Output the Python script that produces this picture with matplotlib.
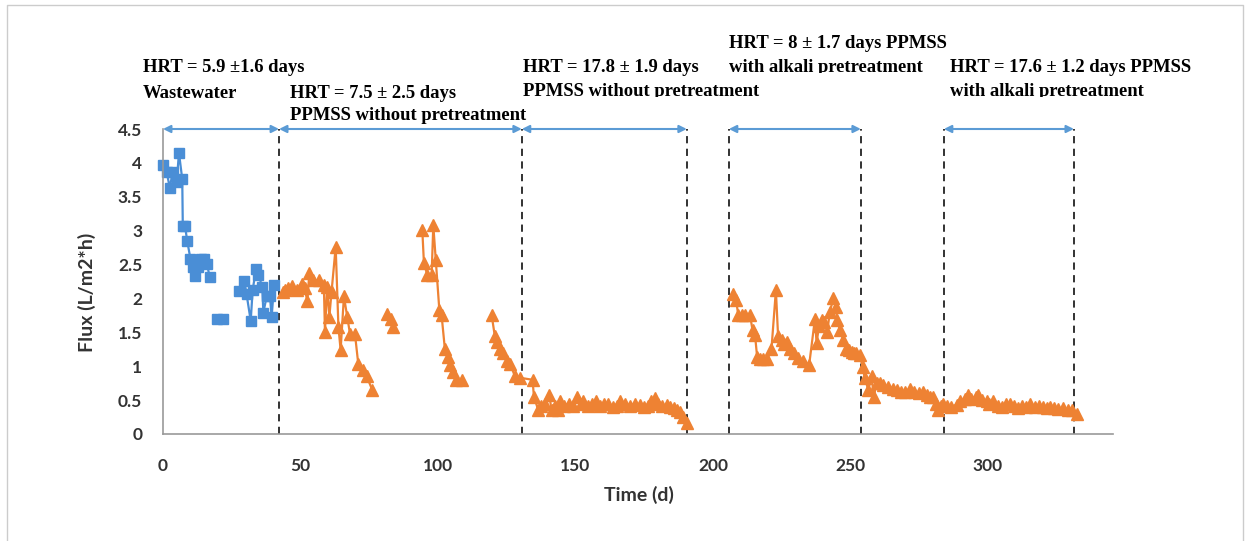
import numpy as np
import matplotlib
matplotlib.use('Agg')
import matplotlib.pyplot as plt
from matplotlib.transforms import Bbox

nan = np.nan

# wastewater period (blue squares), gaps = nan
blue_day = [0.1, 1.3, 2.5, 3.5, 5.0, 5.8, 7.0, 7.2, 8.0, 8.8, 10.0, 11.0, 11.6, 12.9, 14.0, 15.0, 16.0, 17.0,
            nan, 19.8, 22.0, nan,
            27.8, 29.6, 30.4, 31.9, 32.6, 33.8, 34.7, 36.1, 36.5, 37.7, 38.9, 39.5, 40.4]
blue_flux = [3.97, 3.87, 3.63, 3.87, 3.72, 4.15, 3.76, 3.07, 3.07, 2.85, 2.58, 2.47, 2.33, 2.47, 2.58, 2.58, 2.51, 2.31,
             nan, 1.69, 1.69, nan,
             2.11, 2.26, 2.06, 1.67, 2.12, 2.43, 2.35, 2.17, 1.79, 2.03, 2.04, 1.72, 2.20]

# PPMSS periods (orange triangles)
orange_day = [43.5, 44.4, 45.5, 46.8, 48.6, 50.4, 51.5, 52.5, 53.2, 54.7, 56.8, 58.5, 58.9, 59.7, 60.5, 61.3,
              62.8, 63.8, 64.6, 65.8, 67.0, 68.0, 69.8, 71.0, 72.8, 74.1, 76.1, nan,
              81.6, 82.8, 83.8, nan,
              94.3, 94.9, 96.1, 97.7, 98.3, 99.2, 100.5, 101.3, 102.5, 103.5, 104.4, 105.3, 106.5, 108.6, nan,
              119.5, 120.7, 121.6, 122.5, 123.7, 125.2, 126.2, 128.0, 129.8,
              134.4, 134.9, 136.5, 137.5, 138.9, 140.5, 141.3, 142.5, 143.7, 144.4, 146.0, 147.5, 149.0, 150.4,
              152.0, 152.8, 154.5, 156.0, 157.6, 159.0, 160.5, 162.0, 163.5, 165.0, 166.2, 168.0, 170.0, 171.5,
              173.5, 175.0, 176.5, 177.5, 178.9, 180.0, 181.5, 183.2, 184.5, 186.0, 186.8, 188.0, 189.0, 190.4, nan,
              207.2, 208.4, 209.2, 210.5, 211.6, 213.5, 214.4, 215.3, 216.1, 217.2, 218.3, 219.7, 221.3, 222.9,
              223.7, 225.0, 226.0, 226.8, 228.0, 229.5, 231.0, 232.8, 235.0, 237.1, 237.7, 238.6, 239.5, 240.5,
              241.6, 242.5, 243.8, 244.7, 245.2, 246.2, 247.4, 248.4, 249.4, 250.4, 251.3, 252.2, 253.5, 254.4,
              255.3, 256.5, 257.7, 258.5, 259.5, 260.7, 262.0, 263.5, 265.6, 267.0, 268.5, 270.0, 271.6, 273.0,
              275.0, 276.5, 278.0, 279.0, 280.1, 281.0, 281.9, 282.8, 283.7, 285.0, 286.5, 288.6, 290.0, 291.5,
              292.8, 294.0, 295.5, 296.5, 298.0, 299.5, 300.5, 301.9, 303.5, 305.0, 306.5, 308.0, 309.5, 311.0,
              312.5, 314.0, 315.3, 317.0, 318.5, 320.0, 321.5, 322.5, 324.0, 325.5, 327.4, 329.0, 330.5, 332.3]
orange_flux = [2.10, 2.12, 2.15, 2.18, 2.12, 2.22, 2.15, 1.96, 2.37, 2.27, 2.27, 2.20, 1.51, 2.17, 1.73, 2.10,
               2.76, 1.58, 1.24, 2.03, 1.73, 1.48, 1.48, 1.04, 0.94, 0.85, 0.65, nan,
               1.77, 1.70, 1.58, nan,
               3.01, 2.52, 2.35, 2.35, 3.08, 2.57, 1.83, 1.76, 1.26, 1.14, 1.02, 0.92, 0.80, 0.79, nan,
               1.76, 1.44, 1.36, 1.26, 1.19, 1.07, 1.04, 0.85, 0.83,
               0.80, 0.55, 0.35, 0.42, 0.45, 0.58, 0.35, 0.42, 0.35, 0.48, 0.42, 0.45, 0.42, 0.55,
               0.45, 0.48, 0.42, 0.45, 0.48, 0.42, 0.45, 0.45, 0.40, 0.42, 0.48, 0.45, 0.42, 0.45,
               0.43, 0.40, 0.42, 0.48, 0.53, 0.45, 0.42, 0.43, 0.40, 0.38, 0.35, 0.33, 0.25, 0.16, nan,
               2.07, 1.98, 1.76, 1.76, 1.76, 1.76, 1.53, 1.46, 1.13, 1.10, 1.10, 1.10, 1.26, 2.12,
               1.44, 1.39, 1.33, 1.36, 1.26, 1.19, 1.12, 1.07, 1.02, 1.70, 1.34, 1.60, 1.68, 1.65,
               1.51, 1.80, 2.00, 1.88, 1.68, 1.53, 1.39, 1.26, 1.24, 1.21, 1.20, 1.19, 1.16, 0.99,
               0.82, 0.65, 0.85, 0.55, 0.75, 0.75, 0.72, 0.70, 0.67, 0.65, 0.62, 0.62, 0.67, 0.62,
               0.60, 0.62, 0.58, 0.55, 0.55, 0.45, 0.35, 0.42, 0.45, 0.42, 0.40, 0.43, 0.48, 0.52,
               0.58, 0.52, 0.55, 0.58, 0.50, 0.48, 0.45, 0.48, 0.42, 0.40, 0.45, 0.45, 0.42, 0.38,
               0.42, 0.40, 0.45, 0.40, 0.42, 0.40, 0.38, 0.40, 0.38, 0.37, 0.38, 0.36, 0.35, 0.30]

# period boundaries (d) and the arrow spans
bounds = [42.2, 130.5, 190.5, 205.8, 253.8, 284.0, 331.3]
spans = [(0, 42.2), (42.2, 130.5), (130.5, 190.5), (205.8, 253.8), (284.0, 331.3)]

# annotation texts: (text, x px, y px, clip bottom px or None)
notes = [("HRT = 5.9 \u00b11.6 days", 143, 68, None),
         ("Wastewater", 143, 93, None),
         ("HRT = 7.5 \u00b1 2.5 days", 290, 93, None),
         ("PPMSS without pretreatment", 290, 116, None),
         ("HRT = 17.8 \u00b1 1.9 days", 523, 68, None),
         ("PPMSS without pretreatment", 523, 92, 97),
         ("HRT = 8 \u00b1 1.7 days PPMSS", 729, 43, None),
         ("with alkali pretreatment", 729, 68, 73),
         ("HRT = 17.6 \u00b1 1.2 days PPMSS", 950, 68, None),
         ("with alkali pretreatment", 950, 92, 97)]

W, H = 1249, 541
fig = plt.figure(figsize=(W / 100, H / 100), dpi=100)
ax = fig.add_axes([163 / W, 1 - 434 / H, 950 / W, 305 / H])

blue = '#4a8ed6'
orange = '#ee8233'
ax.plot(blue_day, blue_flux, color=blue, marker='s', ms=7.5, lw=1.6, clip_on=False)
ax.plot(orange_day, orange_flux, color=orange, marker='^', ms=8, lw=1.6, clip_on=False)

ax.vlines(bounds, 0, 4.5, colors='#222222', linestyles=(0, (4, 3)), lw=1.3, clip_on=False, zorder=1)
for x0, x1 in spans:
    ax.annotate('', xy=(x1, 4.5), xytext=(x0, 4.5),
                arrowprops=dict(arrowstyle='<|-|>', color='#5b9bd5', lw=1.5,
                                shrinkA=0, shrinkB=0, mutation_scale=11),
                annotation_clip=False)

ax.set_xlim(0, 345.5)
ax.set_ylim(0, 4.5)
ax.set_xticks([0, 50, 100, 150, 200, 250, 300])
ax.set_yticks(np.arange(0, 4.51, 0.5))
ax.set_yticklabels(['0', '0.5', '1', '1.5', '2', '2.5', '3', '3.5', '4', '4.5'])
for s in ['top', 'right']:
    ax.spines[s].set_visible(False)
for s in ['left', 'bottom']:
    ax.spines[s].set_color('#999999')
    ax.spines[s].set_linewidth(1.2)
ax.tick_params(axis='both', length=0, labelsize=12.5, labelcolor='#333333')
ax.tick_params(axis='x', pad=17)
ax.tick_params(axis='y', pad=15)
for lab in ax.get_xticklabels() + ax.get_yticklabels():
    lab.set_fontfamily('Lato')
    lab.set_fontweight('bold')

ax.set_ylabel('Flux (L/m2*h)', fontsize=14, fontfamily='Lato', fontweight='bold', color='#333333')
ax.yaxis.set_label_coords((87 - 163) / 950, (434 - 292) / 305)
ax.set_xlabel('Time (d)', fontsize=14, fontfamily='Lato', fontweight='bold', color='#333333')
ax.xaxis.set_label_coords((639 - 163) / 950, (434 - 495) / 305)
ax.xaxis.label.set_va('center')
ax.yaxis.label.set_va('center')

for txt, px, py, clip in notes:
    t = fig.text(px / W, 1 - py / H, txt, ha='left', va='center', fontsize=13.4,
                 fontfamily='Liberation Serif', fontweight='bold', color='black')
    if clip is not None:
        t.set_clip_on(True)
        t.set_clip_box(Bbox.from_extents(0, H - clip, W, H))

# light frame round the picture
fig.add_artist(plt.Line2D([7 / W, 7 / W, 1243 / W, 1243 / W], [0, 1 - 5 / H, 1 - 5 / H, 0],
                          transform=fig.transFigure, color='#cccccc', lw=1))

fig.savefig('out.png', dpi=100)
